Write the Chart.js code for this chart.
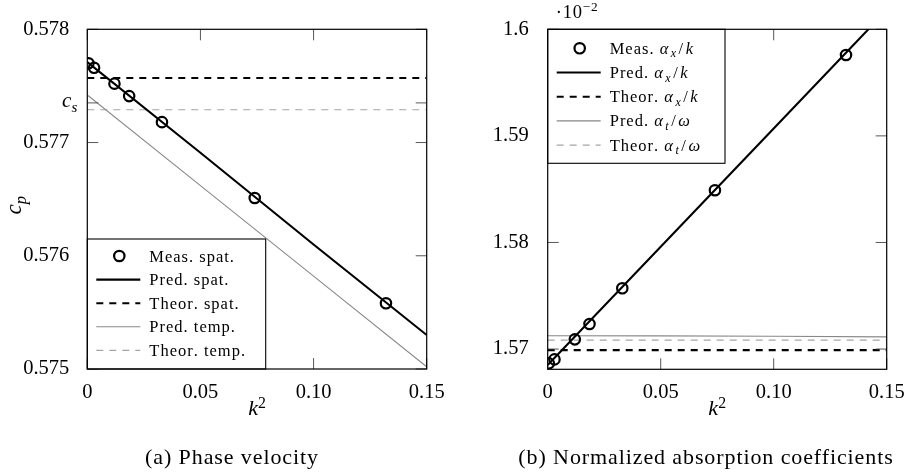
<!DOCTYPE html>
<html><head><meta charset="utf-8">
<script src="https://cdn.jsdelivr.net/npm/chart.js@4"></script>
<style>
html,body{margin:0;padding:0;background:#fff;}
body{width:904px;height:472px;position:relative;overflow:hidden;}
.wrap{position:absolute;top:0;width:452px;height:472px;}
#wa{left:0;} #wb{left:452px;}
.cap{position:absolute;top:446px;font-family:"Liberation Serif","Times New Roman",serif;font-size:22px;line-height:22px;letter-spacing:0.9px;white-space:nowrap;transform:translateX(-50%);color:#000;}
</style></head><body>
<div class="wrap" id="wa"><canvas id="ca" width="452" height="472"></canvas></div>
<div class="wrap" id="wb"><canvas id="cb" width="452" height="472"></canvas></div>
<div class="cap" style="left:232px">(a) Phase velocity</div>
<div class="cap" style="left:706px">(b) Normalized absorption coefficients</div>
<script>
// ---------- data ----------
const k2 = [0.0005, 0.003, 0.012, 0.0185, 0.033, 0.074, 0.132];
const lineK2 = [0, 0.05, 0.10, 0.15];
const lineEnds = [0, 0.15];

const cpMeasSpat  = [0.57770, 0.57766, 0.57752, 0.57741, 0.57718, 0.57651, 0.57558];
const cpPredSpat  = [0.57771, 0.57691, 0.57610, 0.57530];
const cpTheorSpat = [0.57757, 0.57757];
const cpPredTemp  = [0.57742, 0.57662, 0.57582, 0.57502];
const cpTheorTemp = [0.57729, 0.57729];
const csValue = 0.57735;

const alphaMeasX  = [1.56866, 1.56903, 1.57091, 1.57235, 1.57570, 1.58490, 1.59759];
const alphaPredX  = [1.56850, 1.57960, 1.59070, 1.60180];
const alphaTheorX = [1.56990, 1.56990];
const alphaPredT  = [1.57125, 1.57124, 1.57120, 1.57114];
const alphaTheorT = [1.57084, 1.57084];

const xTicks = [0, 0.05, 0.10, 0.15];
const xTickLabels = ['0', '0.05', '0.10', '0.15'];
const cpTicks = [0.575, 0.576, 0.577, 0.578];
const cpTickLabels = ['0.575', '0.576', '0.577', '0.578'];
const alphaTicks = [1.57, 1.58, 1.59, 1.6];
const alphaTickLabels = ['1.57', '1.58', '1.59', '1.6'];

const legendA = ['Meas. spat.', 'Pred. spat.', 'Theor. spat.', 'Pred. temp.', 'Theor. temp.'];
const legendB = ['Meas. $α_x/k$', 'Pred. $α_x/k$', 'Theor. $α_x/k$', 'Pred. $α_t/ω$', 'Theor. $α_t/ω$'];
const xTitle = '$k^2$';
const cpTitle = '$c_p$';
const csLabel = '$c_s$';
const alphaScaleLabel = '$·10^{−2}$';

// ---------- helpers ----------
const FONT = '"Liberation Serif","Times New Roman",serif';
const pts = (xs, ys) => xs.map((x, i) => ({x: x, y: ys[i]}));

function runsOf(s) {
  const runs = []; let math = false;
  for (let i = 0; i < s.length; i++) {
    const c = s[i];
    if (c === '$') { math = !math; continue; }
    if (math && (c === '_' || c === '^')) {
      let t;
      if (s[i + 1] === '{') { const j = s.indexOf('}', i + 2); t = s.slice(i + 2, j); i = j; }
      else { t = s[i + 1]; i++; }
      runs.push({t: t, scr: c, math: true});
      continue;
    }
    runs.push({t: c, scr: null, math: math});
  }
  return runs;
}
const isLetter = ch => /[A-Za-z\u03b1-\u03c9]/.test(ch);
function drawRich(ctx, s, x, y, size, align, spacing, mathSpacing) {
  const items = runsOf(s).map(r => {
    const sz = r.scr ? size * 0.72 : size;
    const it = r.math && isLetter(r.t);
    const font = (it ? 'italic ' : '') + sz + 'px ' + FONT;
    const ls = r.math ? (mathSpacing || 0) : (spacing || 0);
    ctx.font = font; ctx.letterSpacing = ls + 'px';
    const w = ctx.measureText(r.t).width;
    const dy = r.scr === '_' ? size * 0.22 : (r.scr === '^' ? -size * 0.34 : 0);
    return {t: r.t, font: font, w: w, dy: dy, ls: ls};
  });
  const total = items.reduce((a, b) => a + b.w, 0);
  let cx = align === 'center' ? x - total / 2 : (align === 'right' ? x - total : x);
  ctx.textAlign = 'left'; ctx.textBaseline = 'alphabetic'; ctx.fillStyle = '#000';
  for (const it of items) {
    ctx.font = it.font; ctx.letterSpacing = it.ls + 'px';
    ctx.fillText(it.t, cx, y + it.dy); cx += it.w;
  }
  ctx.letterSpacing = '0px';
}

function decor(o) {
  return {
    id: 'decor',
    afterDraw(chart) {
      const ctx = chart.ctx, a = chart.chartArea, xs = chart.scales.x, ys = chart.scales.y;
      ctx.save();
      // inward tick marks
      ctx.strokeStyle = '#444'; ctx.lineWidth = 0.9;
      const TL = 11;
      ctx.beginPath();
      for (const v of xTicks) {
        const px = xs.getPixelForValue(v);
        ctx.moveTo(px, a.bottom); ctx.lineTo(px, a.bottom - TL);
        ctx.moveTo(px, a.top); ctx.lineTo(px, a.top + TL);
      }
      for (const v of o.yMarks) {
        const py = ys.getPixelForValue(v);
        ctx.moveTo(a.left, py); ctx.lineTo(a.left + TL, py);
        ctx.moveTo(a.right, py); ctx.lineTo(a.right - TL, py);
      }
      ctx.stroke();
      // legend
      const L = o.legend;
      const bx = a.left, by = L.atBottom ? a.bottom - L.h : a.top;
      ctx.fillStyle = '#fff'; ctx.fillRect(bx, by, L.w, L.h);
      ctx.strokeStyle = '#000'; ctx.lineWidth = 1.1; ctx.strokeRect(bx, by, L.w, L.h);
      chart.data.datasets.forEach((ds, i) => {
        const ry = by + L.first + i * L.gap;
        ctx.save();
        if (ds.showLine) {
          ctx.strokeStyle = ds.borderColor; ctx.lineWidth = ds.borderWidth;
          ctx.setLineDash(ds.borderDash || []);
          ctx.beginPath(); ctx.moveTo(bx + 9, ry); ctx.lineTo(bx + 53, ry); ctx.stroke();
        } else {
          ctx.strokeStyle = ds.borderColor; ctx.lineWidth = ds.borderWidth;
          ctx.beginPath(); ctx.arc(bx + 32, ry, ds.pointRadius, 0, Math.PI * 2); ctx.stroke();
        }
        ctx.restore();
        drawRich(ctx, ds.label, bx + 62, ry + 5.5, L.size, 'left', L.spacing, L.mathSpacing);
      });
      // frame
      ctx.strokeStyle = '#000'; ctx.lineWidth = 1.2;
      ctx.strokeRect(a.left, a.top, a.right - a.left, a.bottom - a.top);
      // titles
      drawRich(ctx, xTitle, (a.left + a.right) / 2, 415, 22, 'center', 0, 0);
      o.extra(ctx, chart);
      ctx.restore();
    }
  };
}

function makeChart(id, o) {
  return new Chart(document.getElementById(id), {
    type: 'scatter',
    data: {datasets: o.datasets},
    options: {
      responsive: false, animation: false, events: [],
      layout: {padding: {left: 0, top: o.top, right: o.right, bottom: 0}},
      plugins: {legend: {display: false}, tooltip: {enabled: false}},
      scales: {
        x: {
          type: 'linear', min: 0, max: 0.15,
          grid: {display: false}, border: {display: false},
          afterBuildTicks: s => { s.ticks = xTicks.map(v => ({value: v})); },
          ticks: {autoSkip: false, maxRotation: 0, padding: 3, color: '#000',
                  font: {family: FONT, size: 20.5}, callback: (v, i) => xTickLabels[i]},
          afterFit: s => { s.height = o.xh; s.paddingLeft = 0; s.paddingRight = 0; }
        },
        y: {
          type: 'linear', min: o.ymin, max: o.ymax,
          grid: {display: false}, border: {display: false},
          afterBuildTicks: s => { s.ticks = o.yTicks.map(v => ({value: v})); },
          ticks: {autoSkip: false, padding: o.ypad, color: '#000',
                  font: {family: FONT, size: 20.5}, callback: (v, i) => o.yLabels[i]},
          afterFit: s => { s.width = o.yw; s.paddingTop = 0; s.paddingBottom = 0; }
        }
      }
    },
    plugins: [decor(o)]
  });
}

const meas = (label, data) => ({label: label, data: data, showLine: false, pointStyle: 'circle',
  pointRadius: 5.2, borderWidth: 2.2, borderColor: '#000', backgroundColor: 'rgba(0,0,0,0)'});
const line = (label, data, color, width, dash) => ({label: label, data: data, showLine: true,
  pointRadius: 0, borderColor: color, borderWidth: width, borderDash: dash || [], tension: 0});

makeChart('ca', {
  datasets: [
    meas(legendA[0], pts(k2, cpMeasSpat)),
    line(legendA[1], pts(lineK2, cpPredSpat), '#000', 2.1),
    line(legendA[2], pts(lineEnds, cpTheorSpat), '#000', 2.1, [7, 6]),
    line(legendA[3], pts(lineK2, cpPredTemp), '#888', 1.1),
    line(legendA[4], pts(lineEnds, cpTheorTemp), '#a5a5a5', 1.1, [7, 6])
  ],
  top: 29.3, right: 25.3, xh: 103, yw: 87.3, ypad: 10,
  ymin: 0.575, ymax: 0.578, yTicks: cpTicks, yLabels: cpTickLabels,
  yMarks: cpTicks.concat([csValue]),
  legend: {atBottom: true, w: 178.4, h: 130, first: 17, gap: 23.6, size: 16.5, spacing: 1, mathSpacing: 1.5},
  extra: (ctx, chart) => {
    const a = chart.chartArea, ys = chart.scales.y;
    drawRich(ctx, csLabel, a.left - 10, ys.getPixelForValue(csValue) + 4, 21, 'right', 0, 0);
    ctx.save();
    ctx.translate(21, (a.top + a.bottom) / 2 + 6);
    ctx.rotate(-Math.PI / 2);
    drawRich(ctx, cpTitle, 0, 0, 23, 'center', 0, 0);
    ctx.restore();
  }
});

makeChart('cb', {
  datasets: [
    meas(legendB[0], pts(k2, alphaMeasX)),
    line(legendB[1], pts(lineK2, alphaPredX), '#000', 2.1),
    line(legendB[2], pts(lineEnds, alphaTheorX), '#000', 2.1, [7, 6]),
    line(legendB[3], pts(lineK2, alphaPredT), '#888', 1.1),
    line(legendB[4], pts(lineEnds, alphaTheorT), '#a5a5a5', 1.1, [7, 6])
  ],
  top: 29.3, right: 17.3, xh: 102.7, yw: 95.7, ypad: 11,
  ymin: 1.5681, ymax: 1.6, yTicks: alphaTicks, yLabels: alphaTickLabels,
  yMarks: alphaTicks,
  legend: {atBottom: false, w: 177.3, h: 134, first: 19, gap: 24.2, size: 16.5, spacing: 1, mathSpacing: 2.5},
  extra: (ctx, chart) => {
    const a = chart.chartArea;
    drawRich(ctx, alphaScaleLabel, a.left + 8, 17.5, 18.5, 'left', 0, 0.8);
  }
});
</script>
</body></html>
